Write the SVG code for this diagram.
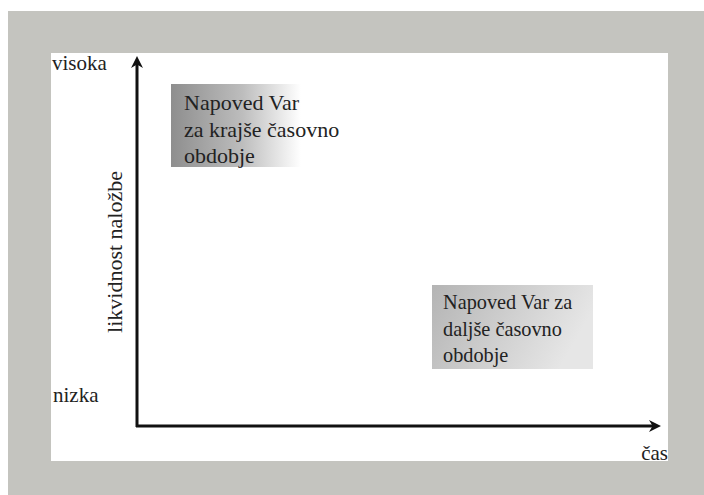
<svg xmlns="http://www.w3.org/2000/svg" width="704" height="495" viewBox="0 0 704 495">
<defs>
<linearGradient id="g1" x1="0" y1="0" x2="1" y2="0">
<stop offset="0" stop-color="#8e8e8e"/>
<stop offset="0.55" stop-color="#bdbdbd"/>
<stop offset="1" stop-color="#ffffff"/>
</linearGradient>
<linearGradient id="g2" x1="0" y1="0" x2="1" y2="0.3">
<stop offset="0" stop-color="#b4b4b4"/>
<stop offset="1" stop-color="#e6e6e6"/>
</linearGradient>
<marker id="ah" viewBox="0 0 10 10" refX="5" refY="5" markerWidth="4" markerHeight="4" orient="auto">
<path d="M0,0 L10,5 L0,10 L3,5 Z" fill="#111"/>
</marker>
</defs>
<rect x="0" y="0" width="704" height="495" fill="#ffffff"/>
<rect x="8" y="11" width="696" height="484" fill="#c4c4bf"/>
<rect x="51" y="53" width="617" height="408" fill="#ffffff"/>
<g id="connectors" stroke="#111" stroke-width="3" fill="none">
<line x1="137" y1="427" x2="137" y2="62" marker-end="url(#ah)"/>
<line x1="136" y1="426" x2="655" y2="426" marker-end="url(#ah)"/>
</g>
<g font-family="Liberation Serif, DejaVu Serif, serif" fill="#222">
<g id="labels" font-size="21">
<text x="52" y="70">visoka</text>
<text x="53" y="402">nizka</text>
<text x="668" y="460" text-anchor="end">čas</text>
<text transform="translate(122,252) rotate(-90)" text-anchor="middle" font-size="22">likvidnost naložbe</text>
</g>
<g id="box1" font-size="22">
<rect x="171" y="84" width="130" height="83" fill="url(#g1)"/>
<text x="184" y="110">Napoved Var</text>
<text x="184" y="137">za krajše časovno</text>
<text x="184" y="163">obdobje</text>
</g>
<g id="box2" font-size="20.3">
<rect x="432" y="285" width="161" height="84" fill="url(#g2)"/>
<text x="443" y="309">Napoved Var za</text>
<text x="443" y="336">daljše časovno</text>
<text x="443" y="362">obdobje</text>
</g>
</g>
</svg>
